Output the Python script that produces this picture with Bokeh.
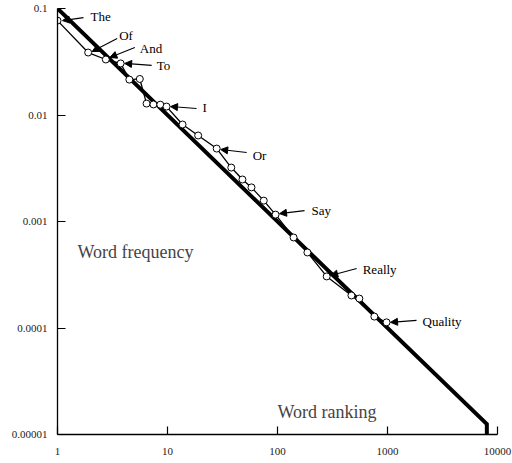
from bokeh.plotting import figure
from bokeh.models import (ColumnDataSource, FixedTicker, CustomJSTickFormatter,
                          Arrow, NormalHead, Label)
from bokeh.core.properties import value
from bokeh.embed import file_html
from bokeh.resources import INLINE

# ---- data ----
ranks = [1, 1.9, 2.75, 3.75, 4.5, 5.6, 6.45, 7.45, 8.6, 9.8, 13.7, 19, 28,
         38, 48, 58, 75, 96, 140, 187, 280, 470, 555, 760, 980]
freqs = [0.077, 0.0386, 0.0332, 0.0305, 0.0215, 0.0218, 0.0128, 0.01256,
         0.0125, 0.0120, 0.00814, 0.00642, 0.00484, 0.00321, 0.00248,
         0.00209, 0.00157, 0.00116, 0.000708, 0.000512, 0.000305, 0.000202,
         0.000189, 0.000128, 0.000113]

zipf_x = [1, 8000, 8000]
zipf_y = [0.1, 1.25e-5, 1e-5]

words = ["The", "Of", "And", "To", "I", "Or", "Say", "Really", "Quality"]
word_idx = [0, 1, 2, 3, 9, 12, 17, 20, 24]

x_ticks = [1, 10, 100, 1000, 10000]
x_tick_labels = ["1", "10", "100", "1000", "10000"]
y_ticks = [0.00001, 0.0001, 0.001, 0.01, 0.1]
y_tick_labels = ["0.00001", "0.0001", "0.001", "0.01", "0.1"]

# ---- layout (pixel offsets of annotations relative to their point) ----
XDEC, YDEC = 110.0, 106.5
text_off = [(33, -4), (31, -17), (34, -11), (36, 2), (36, 1), (36, 7),
            (36, -4), (36, -7), (36, -1)]
arrow_start = [(26, -3), (29, -14), (29, -12), (31, 2), (30, 2), (30, 4),
               (29, -4), (30, -8), (30, -2)]
arrow_end = [(5, 0), (4, -1), (4, -2), (4, 0), (4, 0), (4, 1),
             (4, -1), (4, -1), (4, 0)]

SERIF = "Liberation Serif"

p = figure(width=512, height=463, x_axis_type="log", y_axis_type="log",
           x_range=(1, 10000), y_range=(1e-5, 0.1),
           output_backend="svg", toolbar_location=None,
           min_border_left=57, min_border_right=15,
           min_border_top=8, min_border_bottom=29)
p.outline_line_color = None
p.xgrid.visible = False
p.ygrid.visible = False
p.background_fill_color = "white"
p.border_fill_color = "white"

fmt_code = """
for (let i = 0; i < vals.length; i++) {
  if (Math.abs(Math.log10(tick) - Math.log10(vals[i])) < 1e-6) return labs[i];
}
return "";
"""
p.xaxis.ticker = FixedTicker(ticks=x_ticks)
p.xaxis.formatter = CustomJSTickFormatter(args=dict(vals=x_ticks, labs=x_tick_labels), code=fmt_code)
p.yaxis.ticker = FixedTicker(ticks=y_ticks)
p.yaxis.formatter = CustomJSTickFormatter(args=dict(vals=y_ticks, labs=y_tick_labels), code=fmt_code)

for ax in (p.xaxis[0], p.yaxis[0]):
    ax.axis_line_color = "black"
    ax.axis_line_width = 1.3
    ax.major_tick_in = 8
    ax.major_tick_out = 0
    ax.major_tick_line_color = "black"
    ax.major_tick_line_width = 1.2
    ax.minor_tick_line_color = None
    ax.major_label_text_font = SERIF
    ax.major_label_text_font_size = "11px"
    ax.major_label_text_color = "#222222"
    ax.major_label_standoff = 10
p.xaxis[0].major_label_standoff = 13

# thick Zipf reference line
p.line(zipf_x, zipf_y, line_width=4, line_color="black", line_join="miter")

# data line with markers
src = ColumnDataSource(dict(x=ranks, y=freqs))
p.line("x", "y", source=src, line_width=1.3, line_color="black")
p.scatter("x", "y", source=src, size=7, marker="circle",
          fill_color="white", line_color="black", line_width=1)

# word annotations
wx = [ranks[i] for i in word_idx]
wy = [freqs[i] for i in word_idx]
tsrc = ColumnDataSource(dict(x=wx, y=wy, t=words,
                             xo=[o[0] for o in text_off],
                             yo=[o[1] for o in text_off]))
p.text("x", "y", text="t", source=tsrc, x_offset="xo", y_offset="yo",
       text_font=value(SERIF), text_font_size="13px", text_color="black",
       text_align="left", text_baseline="middle")


def shift(x, y, dx, dy):
    return x * 10 ** (dx / XDEC), y * 10 ** (-dy / YDEC)


for (x, y), s, e in zip(zip(wx, wy), arrow_start, arrow_end):
    xs, ys = shift(x, y, *s)
    xe, ye = shift(x, y, *e)
    p.add_layout(Arrow(end=NormalHead(size=7, fill_color="black",
                                      line_color="black", line_width=1),
                       x_start=xs, y_start=ys, x_end=xe, y_end=ye,
                       line_width=1.1, line_color="black"))

p.add_layout(Label(x=1.52, y=5.2e-4, text="Word frequency",
                   text_font=SERIF, text_font_size="18px",
                   text_baseline="middle", text_align="left"))
p.add_layout(Label(x=100, y=1.64e-5, text="Word ranking",
                   text_font=SERIF, text_font_size="18px",
                   text_baseline="middle", text_align="left"))

open("out.html", "w").write(file_html(p, INLINE))
